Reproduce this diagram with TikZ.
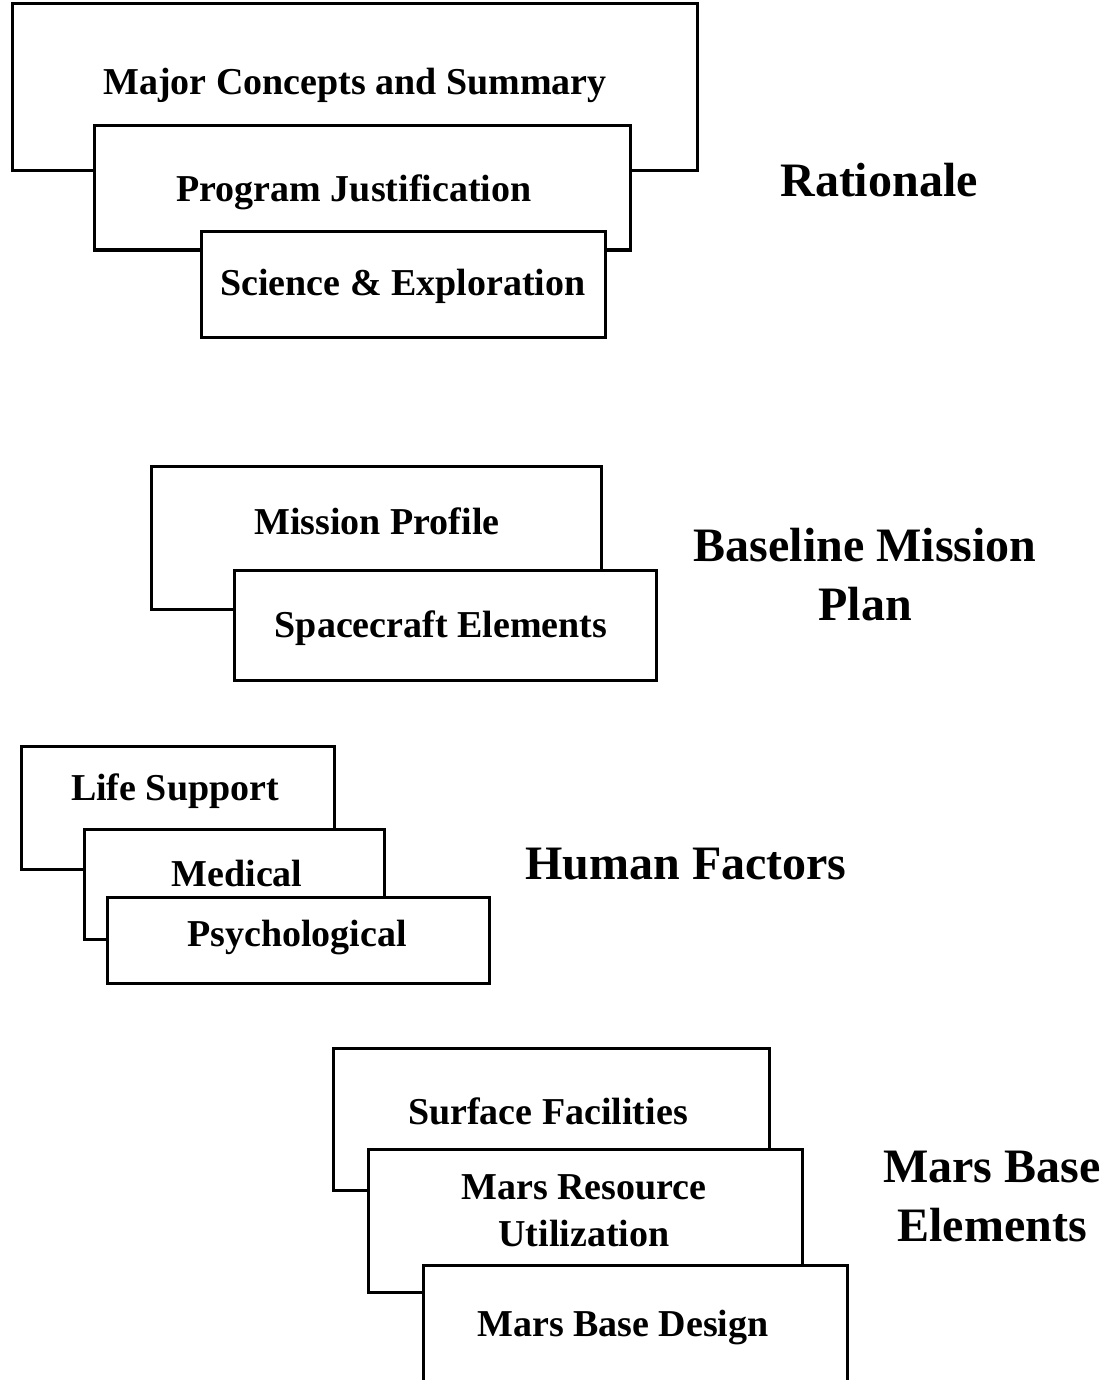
\documentclass[tikz,border=0pt]{standalone}
\usepackage{fontspec}
\setmainfont{Liberation Serif}
\begin{document}
\begin{tikzpicture}[x=1pt,y=-1pt,
  box/.style={draw, line width=3pt, fill=white, inner sep=0pt, outer sep=0pt},
  lbl/.style={font=\bfseries\fontsize{38}{47}\selectfont, inner sep=0pt},
  head/.style={font=\bfseries\fontsize{48}{59}\selectfont, inner sep=0pt, align=center}]
\newcommand{\bx}[5]{\node[box, minimum width={(#4-#2)*1pt}, minimum height={(#5-#3)*1pt}] (#1) at ({(#2+#4)/2},{(#3+#5)/2}) {};}
\useasboundingbox (0,0) rectangle (1114,1380);
\begin{scope}
\clip (0,0) rectangle (1114,1380);
% Rationale
\bx{rA}{12}{4}{697}{171}
\node[lbl] (tA) at (355,85) {Major Concepts and Summary};
\bx{rB}{94}{126}{630}{250}
\node[lbl] (tB) at (354,192) {Program Justification};
\bx{rC}{201}{232}{605}{337}
\node[lbl] (tC) at (403,286) {Science \& Exploration};
\node[head] (hR) at (879,180) {Rationale};
% Baseline
\bx{bA}{151}{466}{601}{609}
\node[lbl] (tD) at (377,521) {Mission Profile};
\bx{bB}{234}{570}{656}{680}
\node[lbl] (tE) at (441,628) {Spacecraft Elements};
\node[head] (hB) at (865,575) {Baseline Mission\\Plan};
% Human factors
\bx{hA}{21}{746}{334}{869}
\node[lbl] (tF) at (175,791) {Life Support};
\bx{hBx}{84}{829}{384}{939}
\node[lbl] (tG) at (237,873) {Medical};
\bx{hC}{107}{897}{489}{983}
\node[lbl] (tH) at (297,937) {Psychological};
\node[head] (hH) at (686,864) {Human Factors};
% Mars base
\bx{mA}{333}{1048}{769}{1190}
\node[lbl] (tI) at (548,1111) {Surface Facilities};
\bx{mB}{368}{1149}{802}{1292}
\node[lbl, align=center] (tJ) at (584,1211) {Mars Resource\\Utilization};
\bx{mC}{423}{1265}{847}{1420}
\node[lbl] (tK) at (623,1327) {Mars Base Design};
\node[head] (hM) at (992,1197) {Mars Base\\Elements};
\end{scope}
\end{tikzpicture}
\end{document}
